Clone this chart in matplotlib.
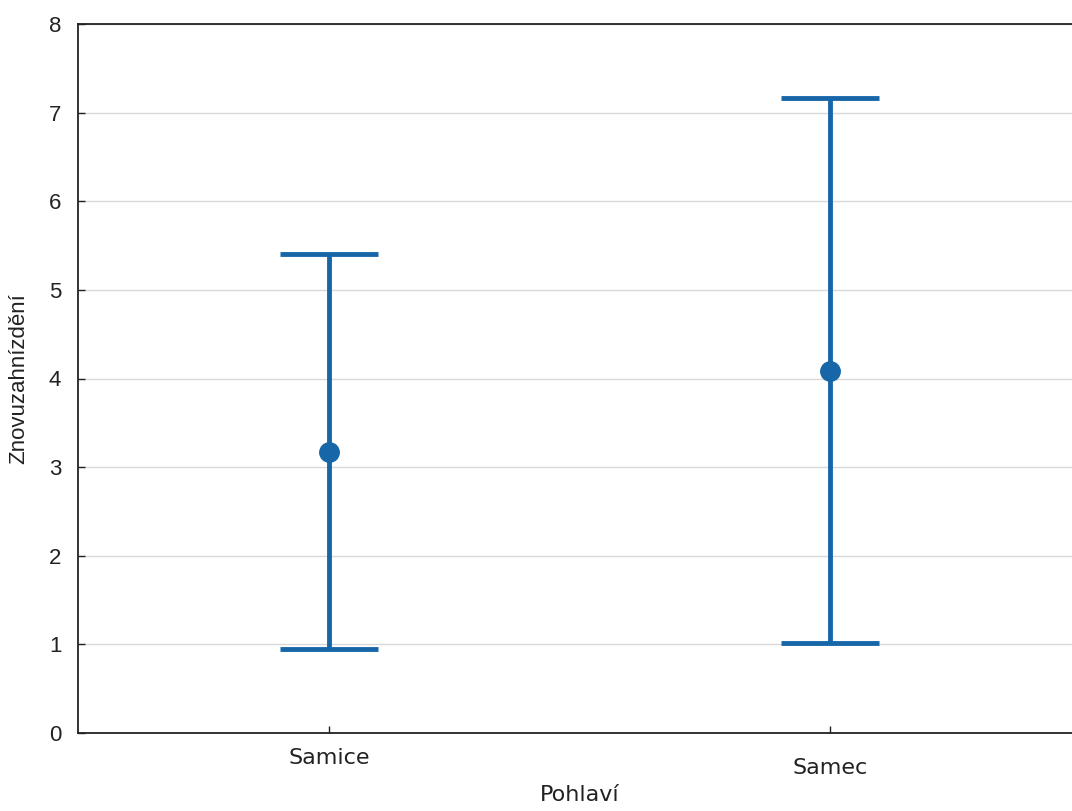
import matplotlib.pyplot as plt
import numpy as np

plt.rcParams['font.family'] = 'Liberation Sans'

# Mean and interval bounds per group
groups = ['Samice', 'Samec']
means = [3.17, 4.08]
lower = [0.95, 1.02]
upper = [5.40, 7.17]

color = '#1767a8'
text_color = '#222222'

fig = plt.figure(figsize=(10.72, 8.11), dpi=100)
# axes run slightly past the right edge of the figure
ax = fig.add_axes([78 / 1072, 78 / 811, 1003 / 1072, 709 / 811])

x = np.arange(len(groups))
means_arr = np.array(means)
yerr = np.vstack([means_arr - np.array(lower), np.array(upper) - means_arr])

ax.errorbar(x, means_arr, yerr=yerr, fmt='o', color=color, ecolor=color,
            elinewidth=3.5, capsize=35, capthick=3.5, markersize=14, zorder=3)

ax.set_xlim(-0.5, 1.5)
ax.set_ylim(0, 8)
ax.set_yticks(range(0, 9))
ax.set_yticklabels([str(v) for v in range(0, 9)], family='Liberation Sans', fontsize=16)
ax.set_xticks(x)
ax.set_xticklabels(groups, family='DejaVu Sans', fontsize=16)

ax.grid(axis='y', color='#d9d9d9', linewidth=1, zorder=0)
ax.set_axisbelow(True)

ax.tick_params(direction='in', length=5, width=1, colors=text_color)
ax.tick_params(axis='y', pad=12)
ax.tick_params(axis='x', pad=11)
# second category label sits a bit lower
ax.xaxis.get_major_ticks()[1].set_pad(18)

for side in ['left', 'bottom', 'top', 'right']:
    ax.spines[side].set_linewidth(1.3)
    ax.spines[side].set_color(text_color)

ax.set_xlabel('Pohlaví', family='DejaVu Sans', fontsize=16, color=text_color, labelpad=5)
ax.set_ylabel('Znovuzahnízdění', family='Liberation Sans', fontsize=16,
              color=text_color, labelpad=14)

fig.savefig('out.png', dpi=100)
